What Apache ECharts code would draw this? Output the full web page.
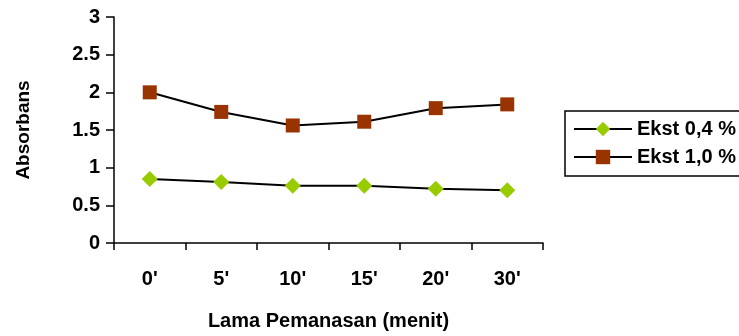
<!DOCTYPE html>
<html>
<head>
<meta charset="utf-8">
<script src="https://cdn.jsdelivr.net/npm/echarts@6/dist/echarts.min.js"></script>
<style>
  html, body { margin: 0; padding: 0; background: #fff; }
  #chart { width: 739px; height: 336px; }
</style>
</head>
<body>
<div id="chart"></div>
<script>
// data
const categories = ["0'", "5'", "10'", "15'", "20'", "30'"];
const ekst04 = [0.85, 0.81, 0.76, 0.76, 0.72, 0.70];
const ekst10 = [2.0, 1.74, 1.56, 1.61, 1.79, 1.84];

const font = "Liberation Sans, Arial, sans-serif";
const chart = echarts.init(document.getElementById("chart"));

chart.setOption({
  animation: false,
  grid: { left: 114, right: 196, top: 17, bottom: 88 },
  legend: {
    left: 565,
    top: 111,
    orient: "vertical",
    itemWidth: 58,
    itemHeight: 18,
    itemGap: 8,
    padding: [8, 30, 9, 8],
    borderColor: "#000",
    borderWidth: 1.5,
    textStyle: { fontFamily: font, fontWeight: "bold", fontSize: 20, color: "#000" },
    data: ["Ekst 0,4 %", "Ekst 1,0 %"],
  },
  xAxis: {
    type: "category",
    data: categories,
    boundaryGap: true,
    name: "Lama Pemanasan (menit)",
    nameLocation: "middle",
    nameGap: 68,
    nameTextStyle: { fontFamily: font, fontWeight: "bold", fontSize: 20, color: "#000" },
    axisLine: { lineStyle: { color: "#000", width: 1.5 } },
    axisTick: { show: true, length: 7, lineStyle: { color: "#000", width: 1.5 } },
    axisLabel: { margin: 26, fontFamily: font, fontWeight: "bold", fontSize: 20, color: "#000" },
    splitLine: { show: false },
  },
  yAxis: {
    type: "value",
    min: 0,
    max: 3,
    interval: 0.5,
    name: "Absorbans",
    nameLocation: "middle",
    nameGap: 81,
    nameTextStyle: { fontFamily: font, fontWeight: "bold", fontSize: 19, color: "#000" },
    axisLine: { show: true, lineStyle: { color: "#000", width: 1.5 } },
    axisTick: { show: true, length: 8, lineStyle: { color: "#000", width: 1.5 } },
    axisLabel: { margin: 14, fontFamily: font, fontWeight: "bold", fontSize: 20, color: "#000" },
    splitLine: { show: false },
  },
  series: [
    {
      name: "Ekst 0,4 %",
      type: "line",
      data: ekst04,
      symbol: "diamond",
      symbolSize: 16,
      showAllSymbol: true,
      lineStyle: { color: "#000", width: 2 },
      itemStyle: { color: "#99CC00", borderWidth: 0 },
    },
    {
      name: "Ekst 1,0 %",
      type: "line",
      data: ekst10,
      symbol: "rect",
      symbolSize: 14,
      showAllSymbol: true,
      lineStyle: { color: "#000", width: 2 },
      itemStyle: { color: "#993300", borderWidth: 0 },
    },
  ],
});
</script>
</body>
</html>
